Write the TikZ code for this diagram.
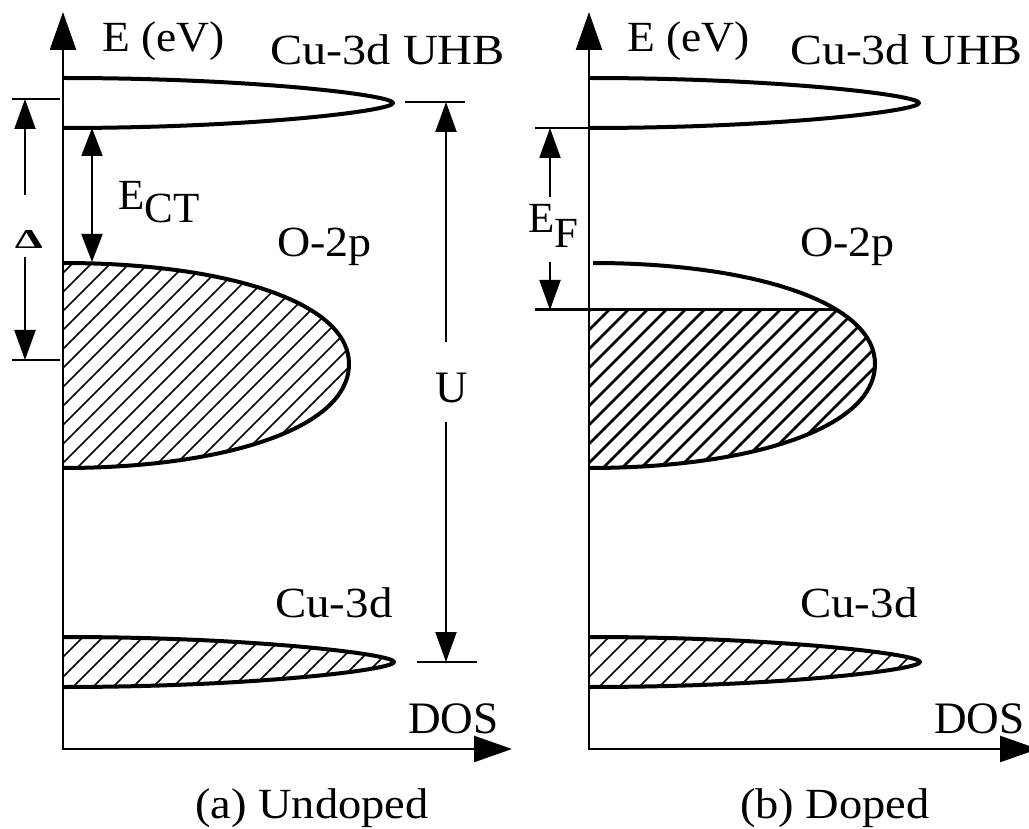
\documentclass[tikz,border=0pt]{standalone}
\usepackage{fontspec}
\setmainfont{Liberation Serif}
\usetikzlibrary{arrows.meta}
\begin{document}
\begin{tikzpicture}[x=1pt,y=-1pt,
  axis/.style={line width=2.5pt,-{Triangle[length=38pt,width=26pt]}},
  band/.style={line width=4pt, line join=round},
  hatchthin/.style={line width=1.6pt},
  hatchthick/.style={line width=2.8pt},
  dim/.style={line width=2pt,-{Triangle[length=30pt,width=21pt]}},
  dimtick/.style={line width=2pt},
  lbl/.style={inner sep=0pt, anchor=base west, font=\fontsize{43}{50}\selectfont, xscale=1.08}]
\useasboundingbox (0,0) rectangle (1029,829);

% ================= panel (a) =================
\coordinate (oA) at (63,749);
\coordinate (yA) at (63,12);
\coordinate (xA) at (512,749);
\draw[axis] (63,750.2) -- (yA);
\draw[axis] (oA) -- (xA);

% UHB band
\draw[band] (63,78) .. controls (250,78) and (393,95) .. (393,103) .. controls (393,111) and (250,128) .. (63,128);

% O-2p band (hatched)
\begin{scope}
  \clip (63,263) .. controls (220,263) and (349,300) .. (349,364) .. controls (349,430) and (220,468) .. (63,468) -- cycle;
  \foreach \s in {-220,-201,...,380} \draw[hatchthin] (\s,480) -- ++(260,-260);
\end{scope}
\draw[band] (63,263) .. controls (220,263) and (349,300) .. (349,364) .. controls (349,430) and (220,468) .. (63,468);

% Cu-3d band (hatched)
\begin{scope}
  \clip (63,637) .. controls (250,637) and (394,654) .. (394,662) .. controls (394,670) and (250,687) .. (63,687) -- cycle;
  \foreach \s in {-40,-20,...,420} \draw[hatchthin] (\s,700) -- ++(100,-100);
\end{scope}
\draw[band] (63,637) .. controls (250,637) and (394,654) .. (394,662) .. controls (394,670) and (250,687) .. (63,687);

% Delta
\coordinate (dT1) at (12,99);  \coordinate (dT2) at (60,99);
\coordinate (dB1) at (12,360); \coordinate (dB2) at (60,360);
\draw[dimtick] (dT1) -- (dT2);
\draw[dimtick] (dB1) -- (dB2);
\coordinate (dUp) at (25,99);  \coordinate (dUs) at (25,195);
\coordinate (dDn) at (25,360); \coordinate (dDs) at (25,257);
\draw[dim] (dUs) -- (dUp);
\draw[dim] (dDs) -- (dDn);
\node[inner sep=0pt] (delta) at (29,240) {\resizebox{28pt}{18pt}{\bfseries Δ}};

% E_CT
\coordinate (ectT) at (92,128);
\coordinate (ectB) at (92,262);
\draw[dim,{Triangle[length=28pt,width=21pt]}-{Triangle[length=28pt,width=21pt]}] (ectT) -- (ectB);
\node[lbl, xscale=1/1.08] (ect) at (118,210) {E\raisebox{-13pt}{CT}};

% U
\coordinate (uT1) at (405,102); \coordinate (uT2) at (465,102);
\coordinate (uB1) at (417,662); \coordinate (uB2) at (477,662);
\draw[dimtick] (uT1) -- (uT2);
\draw[dimtick] (uB1) -- (uB2);
\coordinate (uUp) at (446,102); \coordinate (uUs) at (446,342);
\coordinate (uDn) at (446,662); \coordinate (uDs) at (446,422);
\draw[dim] (uUs) -- (uUp);
\draw[dim] (uDs) -- (uDn);
\node[inner sep=0pt, font=\fontsize{45}{50}\selectfont] (U) at (452,388) {U};

% labels (a)
\node[lbl, xscale=0.98] (eA) at (102,52) {E (eV)};
\node[lbl, xscale=1.04] (uhbA) at (270,65) {Cu-3d UHB};
\node[lbl, xscale=0.99] (opA) at (277,257) {O-2p};
\node[lbl, xscale=1.01] (cuA) at (275,617) {Cu-3d};
\node[lbl, xscale=0.93, font=\fontsize{45}{50}\selectfont] (dosA) at (408,733) {DOS};
\node[lbl] (capA) at (195,818) {(a) Undoped};

% ================= panel (b) =================
\begin{scope}[xshift=526pt]
\coordinate (oB) at (63,749);
\coordinate (yB) at (63,12);
\coordinate (xB) at (512,749);
\draw[axis] (63,750.2) -- (yB);
\draw[axis] (oB) -- (xB);

% UHB band
\draw[band] (63,78) .. controls (250,78) and (393,95) .. (393,103) .. controls (393,111) and (250,128) .. (63,128);

% O-2p band, hatched below E_F
\begin{scope}
  \clip (0,310) rectangle (420,500);
  \clip (63,263) .. controls (220,263) and (349,300) .. (349,364) .. controls (349,430) and (220,468) .. (63,468) -- cycle;
  \foreach \s in {-220,-201,...,380} \draw[hatchthick] (\s,480) -- ++(260,-260);
\end{scope}
\draw[band] (67,263) .. controls (220,263) and (349,300) .. (349,364) .. controls (349,430) and (220,468) .. (63,468);

% Cu-3d band (hatched)
\begin{scope}
  \clip (63,637) .. controls (250,637) and (394,654) .. (394,662) .. controls (394,670) and (250,687) .. (63,687) -- cycle;
  \foreach \s in {-40,-20,...,420} \draw[hatchthin] (\s,700) -- ++(100,-100);
\end{scope}
\draw[band] (63,637) .. controls (250,637) and (394,654) .. (394,662) .. controls (394,670) and (250,687) .. (63,687);

% E_F
\coordinate (fT1) at (9,128);  \coordinate (fT2) at (63,128);
\coordinate (fB1) at (9,310);  \coordinate (fB2) at (310,310);
\draw[dimtick] (fT1) -- (fT2);
\draw[line width=3pt] (fB1) -- (fB2);
\coordinate (fUp) at (24,128); \coordinate (fUs) at (24,197);
\coordinate (fDn) at (24,310); \coordinate (fDs) at (24,262);
\draw[dim] (fUs) -- (fUp);
\draw[dim] (fDs) -- (fDn);
\node[lbl, xscale=1/1.08] (ef) at (2,233) {E\raisebox{-15pt}{F}};

% labels (b)
\node[lbl, xscale=0.98] (eB) at (101,52) {E (eV)};
\node[lbl, xscale=1.03] (uhbB) at (264,65) {Cu-3d UHB};
\node[lbl, xscale=0.99] (opB) at (274,257) {O-2p};
\node[lbl, xscale=1.01] (cuB) at (274,617) {Cu-3d};
\node[lbl, xscale=0.93, font=\fontsize{45}{50}\selectfont] (dosB) at (408,733) {DOS};
\node[lbl] (capB) at (214,818) {(b) Doped};
\end{scope}
\end{tikzpicture}
\end{document}
